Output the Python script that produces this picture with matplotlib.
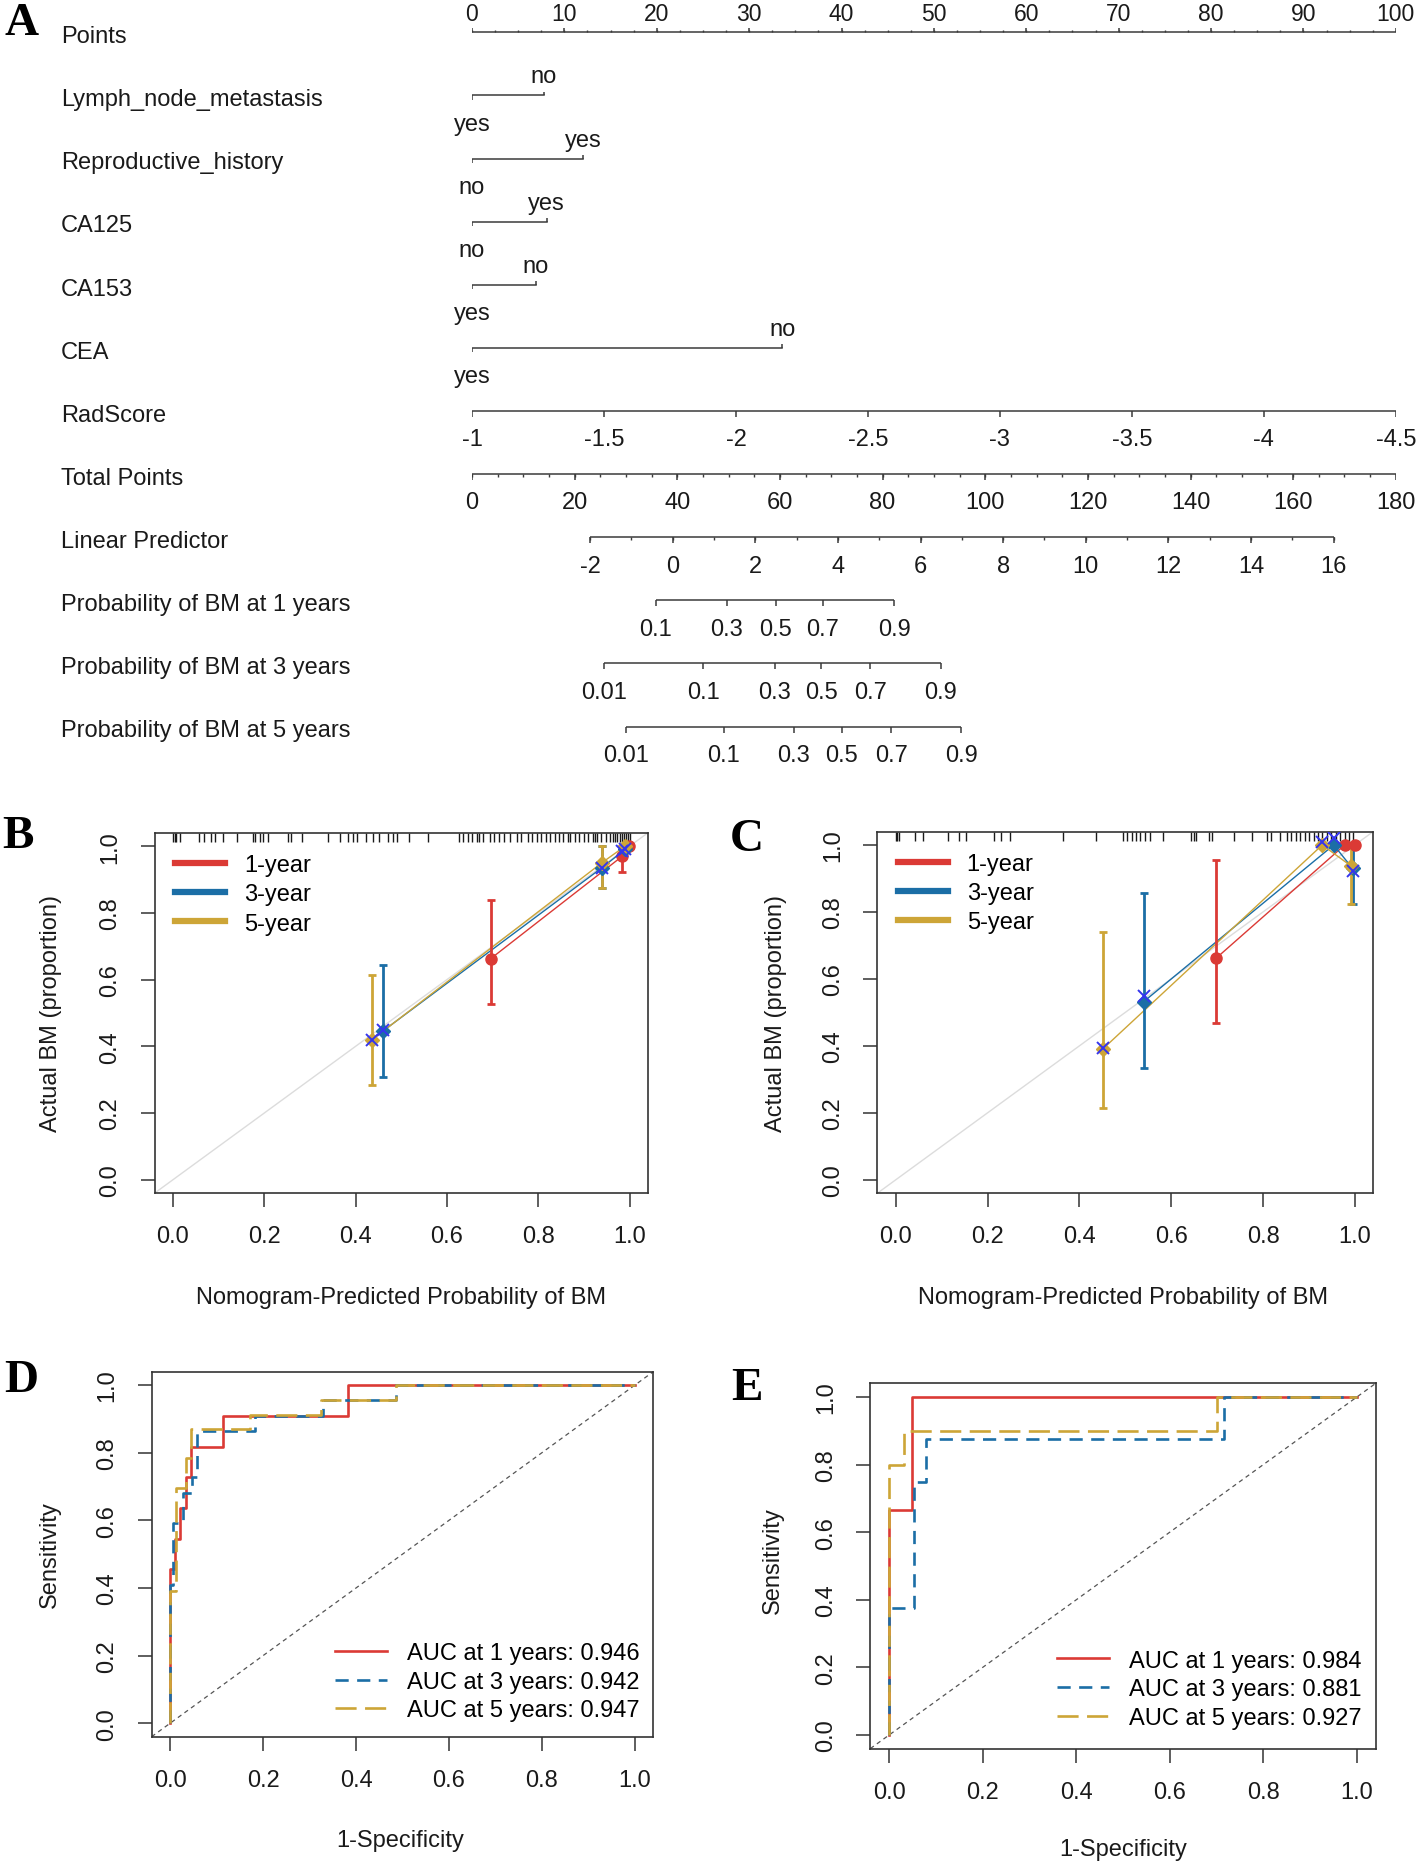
import numpy as np
import matplotlib
matplotlib.use("Agg")
import matplotlib.pyplot as plt
import matplotlib.transforms as mtransforms
from matplotlib.lines import Line2D

plt.rcParams['font.family'] = ['Liberation Sans', 'DejaVu Sans']
plt.rcParams['axes.linewidth'] = 1.2
plt.rcParams['axes.edgecolor'] = '#333333'

RED, BLUE, GOLD = '#DB3A35', '#1B6EA6', '#CDA537'
XBLUE = '#3535EE'
INK = '#1a1a1a'
LINE = '#3a3a3a'
FS = 17
nan = float('nan')

# ---------------- data: nomogram (A) ----------------
points_ticks = np.arange(0, 101, 10)
points_minor = np.arange(0, 100.1, 2.5)

cat_names = ['Lymph_node_metastasis', 'Reproductive_history', 'CA125', 'CA153', 'CEA']
cat_low = ['yes', 'no', 'no', 'yes', 'yes']      # level at 0 points
cat_high = ['no', 'yes', 'yes', 'no', 'no']      # level carrying points
cat_points = [7.8, 12.0, 8.1, 6.9, 33.6]

rad_ticks = [-1, -1.5, -2, -2.5, -3, -3.5, -4, -4.5]
rad_range = (-1, -4.5)                            # 0 .. 100 points

total_ticks = np.arange(0, 181, 20)
total_minor = np.arange(0, 181, 5)
total_max = 180

lp_ticks = np.arange(-2, 17, 2)
lp_minor = np.arange(-2, 17, 1)
lp_ends = (-2, 16)
lp_ends_total = (23.0, 167.9)

prob1_labels = ['0.1', '0.3', '0.5', '0.7', '0.9']
prob1_total = [35.8, 49.6, 59.2, 68.4, 82.3]
prob3_labels = ['0.01', '0.1', '0.3', '0.5', '0.7', '0.9']
prob3_total = [25.8, 45.1, 59.0, 68.1, 77.6, 91.3]
prob5_labels = ['0.01', '0.1', '0.3', '0.5', '0.7', '0.9']
prob5_total = [30.1, 49.1, 62.7, 72.0, 81.7, 95.3]

# ---------------- data: calibration (B, C) ----------------
# x = predicted, y = observed, lo/hi = CI, yc = bias-corrected
b_red = dict(x=[0.696, 0.984, 0.999], y=[0.663, 0.970, 1.0], lo=[0.527, 0.922, 1.0], hi=[0.840, 1.0, 1.0], yc=[nan, 0.985, nan])
b_blue = dict(x=[0.459, 0.939, 0.990], y=[0.445, 0.935, 0.990], lo=[0.307, 0.875, 0.990], hi=[0.643, 1.0, 0.990], yc=[0.450, 0.935, 0.990])
b_gold = dict(x=[0.436, 0.939, 0.990], y=[0.420, 0.950, 1.0], lo=[0.285, 0.875, 1.0], hi=[0.613, 1.0, 1.0], yc=[0.420, nan, nan])
b_rug = [0.0, 0.004, 0.008, 0.015, 0.058, 0.068, 0.083, 0.092, 0.109, 0.141, 0.175, 0.18, 0.19, 0.197,
         0.209, 0.253, 0.258, 0.282, 0.34, 0.365, 0.384, 0.394, 0.404, 0.423, 0.438, 0.452, 0.472, 0.482,
         0.491, 0.516, 0.559, 0.627, 0.636, 0.646, 0.655, 0.665, 0.670, 0.680, 0.695, 0.704, 0.714, 0.724,
         0.738, 0.753, 0.762, 0.777, 0.787, 0.797, 0.806, 0.816, 0.826, 0.836, 0.845, 0.855, 0.865, 0.870,
         0.880, 0.889, 0.899, 0.909, 0.919, 0.924, 0.929, 0.938, 0.948, 0.958, 0.963, 0.968, 0.973, 0.978,
         0.983, 0.988, 0.993, 0.997, 1.0]

c_red = dict(x=[0.698, 0.978, 1.0], y=[0.662, 1.0, 1.0], lo=[0.469, 1.0, 1.0], hi=[0.954, 1.0, 1.0], yc=[nan, nan, nan])
c_blue = dict(x=[0.540, 0.954, 0.995], y=[0.532, 1.0, 0.930], lo=[0.334, 1.0, 0.825], hi=[0.857, 1.0, 1.0], yc=[0.549, 1.02, 0.922])
c_gold = dict(x=[0.452, 0.929, 0.992], y=[0.392, 1.0, 0.937], lo=[0.215, 1.0, 0.825], hi=[0.740, 1.0, 1.0], yc=[0.395, 1.01, nan])
c_rug = [0.0, 0.002, 0.007, 0.041, 0.06, 0.113, 0.137, 0.152, 0.214, 0.229, 0.248, 0.364, 0.437, 0.495,
         0.504, 0.514, 0.524, 0.533, 0.543, 0.553, 0.582, 0.644, 0.649, 0.654, 0.683, 0.688, 0.736, 0.775,
         0.809, 0.818, 0.838, 0.852, 0.862, 0.871, 0.881, 0.891, 0.9, 0.91, 0.92, 0.929, 0.939, 0.949,
         0.958, 0.968, 0.978, 0.987, 0.997]

year_labels = ['1-year', '3-year', '5-year']

# ---------------- data: ROC (D, E) ----------------
d_fpr1 = [0, 0, 0.010, 0.010, 0.022, 0.022, 0.034, 0.034, 0.045, 0.045, 0.113, 0.113, 0.383, 0.383, 1.0]
d_tpr1 = [0, 0.455, 0.455, 0.545, 0.545, 0.636, 0.636, 0.727, 0.727, 0.818, 0.818, 0.909, 0.909, 1.0, 1.0]
d_fpr3 = [0, 0, 0.006, 0.006, 0.027, 0.027, 0.046, 0.046, 0.058, 0.058, 0.182, 0.182, 0.329, 0.329, 0.486, 0.486, 1.0]
d_tpr3 = [0, 0.409, 0.409, 0.591, 0.591, 0.682, 0.682, 0.727, 0.727, 0.864, 0.864, 0.909, 0.909, 0.955, 0.955, 1.0, 1.0]
d_fpr5 = [0, 0, 0.012, 0.012, 0.033, 0.033, 0.045, 0.045, 0.172, 0.172, 0.325, 0.325, 0.487, 0.487, 1.0]
d_tpr5 = [0, 0.391, 0.391, 0.696, 0.696, 0.783, 0.783, 0.870, 0.870, 0.913, 0.913, 0.957, 0.957, 1.0, 1.0]
d_auc = ['0.946', '0.942', '0.947']

e_fpr1 = [0, 0, 0.050, 0.050, 1.0]
e_tpr1 = [0, 0.667, 0.667, 1.0, 1.0]
e_fpr3 = [0, 0, 0.053, 0.053, 0.080, 0.080, 0.717, 0.717, 1.0]
e_tpr3 = [0, 0.375, 0.375, 0.750, 0.750, 0.875, 0.875, 1.0, 1.0]
e_fpr5 = [0, 0, 0.032, 0.032, 0.700, 0.700, 1.0]
e_tpr5 = [0, 0.800, 0.800, 0.900, 0.900, 1.0, 1.0]
e_auc = ['0.984', '0.881', '0.927']

# ---------------- layout helpers (reference grid 1191 x 1568) ----------------
W, H = 1191.0, 1568.0
def fx(x):
    return x / W
def fy(y):
    return 1 - y / H

fig = plt.figure(figsize=(14.16, 18.65), dpi=100)

# ================= A: nomogram =================
row0, gap = 28.0, 53.06
top_px, bot_px = 3.0, 645.0
axn = fig.add_axes([fx(397), fy(bot_px), fx(1174) - fx(397), (bot_px - top_px) / H])
axn.set_xlim(0, 100)
axn.set_ylim((bot_px - row0) / gap, (top_px - row0) / gap)
axn.axis('off')
lab_tr = mtransforms.blended_transform_factory(fig.transFigure, axn.transData)

UP_LAB, LO_LAB = -0.30, 0.45
MAJ, MIN = 0.095, 0.05

def row_label(r, text):
    axn.text(fx(51), r + 0.06, text, transform=lab_tr, fontsize=FS, color=INK, ha='left', va='center')

def scale_row(r, pos, labels, minor=None):
    axn.plot([min(pos), max(pos)], [r, r], color=LINE, lw=1.1, solid_capstyle='butt')
    axn.vlines(pos, r, r + MAJ, color=LINE, lw=1.1)
    if minor is not None:
        axn.vlines(minor, r, r + MIN, color=LINE, lw=1.0)
    for p, t in zip(pos, labels):
        axn.text(p, r + LO_LAB, t, fontsize=FS, color=INK, ha='center', va='center')

# Points
row_label(0, 'Points')
axn.plot([0, 100], [0, 0], color=LINE, lw=1.1)
axn.vlines(points_ticks, 0, -0.065, color=LINE, lw=1.1)
axn.vlines(points_minor, 0, -0.037, color=LINE, lw=1.0)
for p in points_ticks:
    axn.text(p, -0.30, str(p), fontsize=FS - 0.5, color=INK, ha='center', va='center')

# categorical predictors
for i, (name, lo, hi, pt) in enumerate(zip(cat_names, cat_low, cat_high, cat_points)):
    r = i + 1
    row_label(r, name)
    axn.plot([0, pt], [r, r], color=LINE, lw=1.1)
    axn.vlines([0], r, r + 0.065, color=LINE, lw=1.1)
    axn.vlines([pt], r, r - 0.055, color=LINE, lw=1.1)
    axn.text(pt, r + UP_LAB, hi, fontsize=FS, color=INK, ha='center', va='center')
    axn.text(0, r + LO_LAB, lo, fontsize=FS, color=INK, ha='center', va='center')

# RadScore
r = 6
row_label(r, 'RadScore')
rad_pos = [(v - rad_range[0]) / (rad_range[1] - rad_range[0]) * 100 for v in rad_ticks]
scale_row(r, rad_pos, ['%g' % v for v in rad_ticks])

# Total points
r = 7
row_label(r, 'Total Points')
scale_row(r, total_ticks / total_max * 100, [str(v) for v in total_ticks], total_minor / total_max * 100)

# Linear predictor
r = 8
row_label(r, 'Linear Predictor')
def lp_to_pts(v):
    t = lp_ends_total[0] + (v - lp_ends[0]) / (lp_ends[1] - lp_ends[0]) * (lp_ends_total[1] - lp_ends_total[0])
    return t / total_max * 100
scale_row(r, [lp_to_pts(v) for v in lp_ticks], [str(v) for v in lp_ticks], [lp_to_pts(v) for v in lp_minor])

# probabilities
for r, yr, labs, tots in [(9, 1, prob1_labels, prob1_total), (10, 3, prob3_labels, prob3_total),
                          (11, 5, prob5_labels, prob5_total)]:
    row_label(r, 'Probability of BM at %d years' % yr)
    scale_row(r, [t / total_max * 100 for t in tots], labs)

fig.text(fx(18), fy(20), 'A', fontsize=34, family='Liberation Serif', weight='bold', ha='center', va='center')

# ================= common axis styling =================
def style_axes(ax):
    ax.set_xlim(-0.04, 1.04)
    ax.set_ylim(-0.04, 1.04)
    ticks = [0, 0.2, 0.4, 0.6, 0.8, 1.0]
    ax.set_xticks(ticks)
    ax.set_yticks(ticks)
    ax.set_xticklabels(['%.1f' % t for t in ticks])
    ax.set_yticklabels(['%.1f' % t for t in ticks])
    ax.tick_params(direction='out', length=10, width=1.1, color='#333333', labelsize=FS, pad=13, labelcolor=INK)
    ax.tick_params(axis='y', labelrotation=90, pad=14)
    for lbl in ax.get_yticklabels():
        lbl.set_va('center')

# ================= B, C: calibration =================
def calib_panel(ax, series, rug):
    style_axes(ax)
    ax.plot([-0.04, 1.04], [-0.04, 1.04], color='#dcdcdc', lw=1.0, zorder=1)
    tr = mtransforms.blended_transform_factory(ax.transData, ax.transAxes)
    ax.vlines(rug, 0.974, 1.0, transform=tr, color=INK, lw=1.0)
    for s, color, mk in series:
        ax.plot(s['x'], s['y'], color=color, lw=1.0, zorder=3)
        y = np.array(s['y'])
        yerr = [y - np.array(s['lo']), np.array(s['hi']) - y]
        ax.errorbar(s['x'], s['y'], yerr=yerr, fmt=mk, color=color, ms=8 if mk == 'o' else 7,
                    elinewidth=2.0, capsize=2.6, capthick=2.0, zorder=4)
        ax.plot(s['x'], s['yc'], 'x', color=XBLUE, ms=9, mew=1.4, zorder=5)
    handles = [Line2D([], [], color=c, lw=4.5) for _, c, _ in series]
    ax.legend(handles, year_labels, loc='upper left', bbox_to_anchor=(0.042, 0.94), frameon=False,
              fontsize=FS, handlelength=2.1, handletextpad=0.8, labelspacing=0.3, borderpad=0,
              borderaxespad=0)

axB = fig.add_axes([fx(130), fy(1004), (545 - 130) / W, (1004 - 701) / H])
calib_panel(axB, [(b_red, RED, 'o'), (b_blue, BLUE, 'D'), (b_gold, GOLD, 'D')], b_rug)
axC = fig.add_axes([fx(738), fy(1004), (1155 - 738) / W, (1004 - 700) / H])
calib_panel(axC, [(c_red, RED, 'o'), (c_blue, BLUE, 'D'), (c_gold, GOLD, 'D')], c_rug)

for (x, y) in [(337, 1091), (945, 1091)]:
    fig.text(fx(x), fy(y), 'Nomogram-Predicted Probability of BM', fontsize=FS, color=INK, ha='center', va='center')
for (x, y) in [(43, 852), (653, 852)]:
    fig.text(fx(x), fy(y), 'Actual BM (proportion)', fontsize=FS, color=INK, ha='center', va='center', rotation=90)
fig.text(fx(15), fy(704), 'B', fontsize=34, family='Liberation Serif', weight='bold', ha='center', va='center')
fig.text(fx(628), fy(706), 'C', fontsize=34, family='Liberation Serif', weight='bold', ha='center', va='center')

# ================= D, E: ROC =================
def roc_panel(ax, curves, aucs, anchor):
    style_axes(ax)
    ax.plot([-0.04, 1.04], [-0.04, 1.04], color='#555555', lw=0.9, dashes=(3.5, 3), zorder=1)
    styles = [dict(color=RED, ls='-'), dict(color=BLUE, dashes=(5, 3.2)), dict(color=GOLD, dashes=(8, 3.2))]
    handles = []
    for (fpr, tpr), st in zip(curves, styles):
        ax.plot(fpr, tpr, lw=1.9, **st)
        handles.append(Line2D([], [], lw=1.9, **st))
    labels = ['AUC at %d years: %s' % (yr, a) for yr, a in zip([1, 3, 5], aucs)]
    ax.legend(handles, labels, loc='lower right', bbox_to_anchor=anchor, frameon=False, fontsize=FS,
              handlelength=2.2, handletextpad=0.85, labelspacing=0.28, borderpad=0, borderaxespad=0)

axD = fig.add_axes([fx(127.5), fy(1461), (549.6 - 127.5) / W, (1461 - 1154) / H])
roc_panel(axD, [(d_fpr1, d_tpr1), (d_fpr3, d_tpr3), (d_fpr5, d_tpr5)], d_auc, (0.973, 0.042))
axE = fig.add_axes([fx(732), fy(1471), (1157 - 732) / W, (1471 - 1164) / H])
roc_panel(axE, [(e_fpr1, e_tpr1), (e_fpr3, e_tpr3), (e_fpr5, e_tpr5)], e_auc, (0.972, 0.054))

fig.text(fx(337), fy(1548), '1-Specificity', fontsize=FS, color=INK, ha='center', va='center')
fig.text(fx(945), fy(1555), '1-Specificity', fontsize=FS, color=INK, ha='center', va='center')
fig.text(fx(42), fy(1307), 'Sensitivity', fontsize=FS, color=INK, ha='center', va='center', rotation=90)
fig.text(fx(650), fy(1312), 'Sensitivity', fontsize=FS, color=INK, ha='center', va='center', rotation=90)
fig.text(fx(18), fy(1161), 'D', fontsize=34, family='Liberation Serif', weight='bold', ha='center', va='center')
fig.text(fx(628), fy(1168), 'E', fontsize=34, family='Liberation Serif', weight='bold', ha='center', va='center')

fig.savefig('out.png', dpi=100)
